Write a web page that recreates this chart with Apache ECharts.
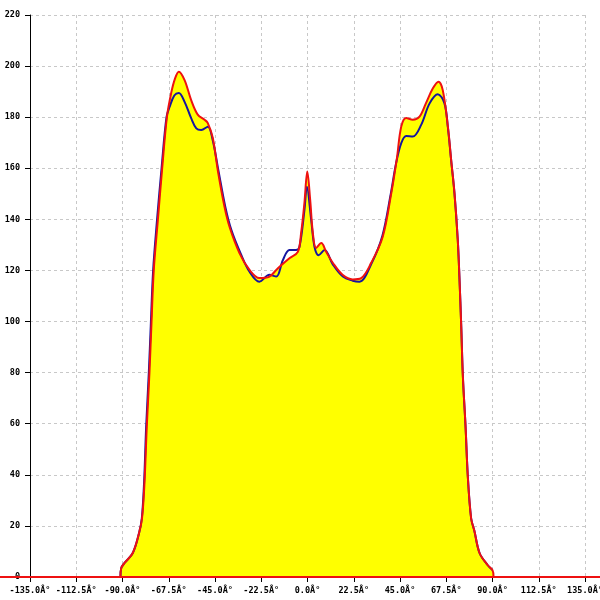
<!DOCTYPE html>
<html>
<head>
<meta charset="utf-8">
<script src="https://cdn.jsdelivr.net/npm/echarts@6/dist/echarts.min.js"></script>
<style>html,body{margin:0;padding:0;background:#fff;overflow:hidden}#c{width:600px;height:600px}</style>
</head>
<body>
<div id="c"></div>
<script>
// Tick values
const xTicks = [-135, -112.5, -90, -67.5, -45, -22.5, 0, 22.5, 45, 67.5, 90, 112.5, 135];
const yTicks = [0, 20, 40, 60, 80, 100, 120, 140, 160, 180, 200, 220];

// Red series (outer envelope) [angle, value]
const redAngles = [-91, -90.6, -89, -85, -82, -80.5, -79.3, -78.2, -76.9, -75.9, -74.8, -72.8, -70.7, -68.4, -66.3, -64.5, -62.6, -59.8, -56.6, -53.4, -50.1, -48.5, -46.1, -43.6, -40.4, -37.9, -33.1, -28.2, -23.4, -18.5, -15.2, -12.8, -8.8, -4.7, -3.1, -1.5, -0.1, 1.3, 2.6, 4.2, 6.7, 9.1, 12.3, 17.2, 22.0, 26.1, 31.0, 36.6, 40.7, 43.5, 45.6, 48.0, 51.2, 54.5, 57.7, 61.0, 63.7, 65.8, 68.3, 69.9, 71.5, 73.1, 73.9, 74.8, 75.6, 76.9, 78.0, 79.6, 81.2, 83.7, 87.6, 90.0, 90.5];
const redValues = [0, 3.5, 5.5, 9.4, 17, 23, 37, 58.7, 79.9, 99.4, 120, 139.8, 160, 180, 189.5, 195, 197.8, 194.5, 186.7, 181, 179, 177.7, 172, 159, 145, 137, 126.8, 120.2, 117, 117.6, 120.2, 122, 124.8, 127.3, 134.7, 146.4, 158.7, 147.6, 134.7, 128.8, 130.7, 127.3, 123, 118.2, 116.5, 117, 123, 133.2, 150, 164, 176.3, 179.7, 179, 180.2, 185.6, 191.3, 193.9, 190.6, 176.3, 163.2, 150.3, 132, 117.6, 98, 78.4, 58.8, 39.3, 23, 18, 9.4, 4.7, 2.7, 0];

// Zero baseline of the red series across the whole window
const baseAngles = [-149.6, 142.3];
const baseValues = [0, 0];

// Blue series (inner curve) [angle, value]
const blueAngles = [-91, -90.6, -89, -85, -82, -80.6, -79.5, -78.5, -77.2, -76.2, -75.1, -73.2, -71.0, -68.6, -67.1, -64.8, -62.6, -59.8, -56.6, -54.1, -51.7, -48.5, -46.1, -43.3, -40.0, -37.1, -32.6, -28.2, -23.4, -18.5, -15.2, -12.0, -8.8, -5.6, -3.9, -1.5, -0.3, 1.8, 3.4, 5.4, 8.3, 12.3, 17.2, 22.0, 25.3, 31.0, 36.4, 40.5, 43.1, 45.6, 48.0, 51.2, 55.3, 59.4, 63.4, 66.6, 68.3, 69.9, 71.5, 73.1, 73.9, 74.8, 75.6, 76.9, 78.0, 79.6, 81.2, 83.7, 87.6, 90.0];
const blueValues = [0, 3.5, 5.5, 9.4, 17, 23, 37, 58.7, 79.9, 99.4, 120, 139.8, 160, 180, 184, 188.5, 189.5, 186, 179.6, 175.6, 175, 176.3, 171, 159, 145, 136, 126.8, 119.5, 115.6, 118.3, 117.6, 124, 128, 128, 129.3, 143.6, 152.8, 139.8, 129.3, 126, 128, 122.4, 117.6, 116, 115.6, 122.5, 133.5, 150, 162, 169.8, 172.6, 172.4, 177, 185.4, 189, 185.5, 176, 163, 150.3, 132, 117.6, 98, 78.4, 58.8, 39.3, 23, 18, 9.4, 4.7, 2.7];

const redData = redAngles.map((a, i) => [a, redValues[i]]);
const blueData = blueAngles.map((a, i) => [a, blueValues[i]]);
const baseData = baseAngles.map((a, i) => [a, baseValues[i]]);

const labelFont = { fontFamily: 'DejaVu Sans Mono', fontSize: 8.5, fontWeight: 'bold', color: '#000' };
const gridLine = { show: true, lineStyle: { color: '#c8c8c8', type: [3, 3], width: 1 } };
const RED = '#ee1111';
const SM = 0.35;

const chart = echarts.init(document.getElementById('c'), null, { renderer: 'canvas' });
chart.setOption({
  animation: false,
  backgroundColor: '#ffffff',
  grid: [
    { left: 30, right: 15, top: 15, bottom: 23, containLabel: false, outerBoundsMode: 'none' },
    { left: 0, right: 0, top: 15, bottom: 23, containLabel: false, outerBoundsMode: 'none' }
  ],
  xAxis: [{
    type: 'value', min: -135, max: 135, interval: 22.5,
    axisLine: { show: true, onZero: false, lineStyle: { color: '#000', width: 1 } },
    axisTick: { show: true, length: 5, lineStyle: { color: '#000' } },
    axisLabel: Object.assign({ margin: 9, showMinLabel: true, showMaxLabel: true, hideOverlap: false,
      formatter: v => v.toFixed(1) + 'Â°' }, labelFont),
    splitLine: gridLine
  }, {
    gridIndex: 1, type: 'value', min: baseAngles[0], max: baseAngles[1], show: false
  }],
  yAxis: [{
    type: 'value', min: 0, max: 220, interval: 20,
    axisLine: { show: true, onZero: false, lineStyle: { color: '#000', width: 1 } },
    axisTick: { show: true, length: 5, lineStyle: { color: '#000' } },
    axisLabel: Object.assign({ margin: 10 }, labelFont),
    splitLine: gridLine
  }, {
    gridIndex: 1, type: 'value', min: 0, max: 220, show: false
  }],
  series: [
    {
      type: 'line', data: redData, smooth: SM, symbol: 'none',
      lineStyle: { width: 0, opacity: 0 }, areaStyle: { color: '#ffff00', opacity: 1 }, z: 1
    },
    {
      type: 'line', data: blueData, smooth: SM, symbol: 'none',
      lineStyle: { color: '#1414a0', width: 2 }, z: 2
    },
    {
      type: 'line', xAxisIndex: 1, yAxisIndex: 1, data: baseData, symbol: 'none', clip: false,
      lineStyle: { color: RED, width: 2 }, z: 3
    },
    {
      type: 'line', data: redData, smooth: SM, symbol: 'none',
      lineStyle: { color: RED, width: 2 }, z: 4
    }
  ]
});
</script>
</body>
</html>
